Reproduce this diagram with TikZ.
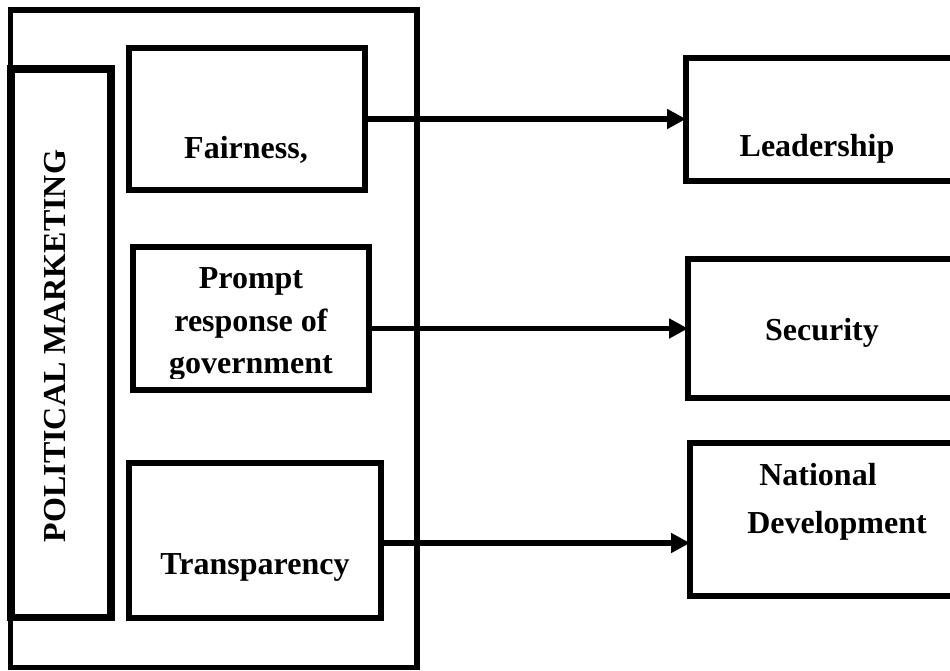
\documentclass[tikz,border=0pt]{standalone}
\usepackage{fontspec}
\setmainfont{Liberation Serif}
\usetikzlibrary{arrows.meta}
\begin{document}
\begin{tikzpicture}[x=1pt,y=-1pt,
  boxa/.style={draw=black,line width=5.5pt,outer sep=0pt,inner sep=0pt,rectangle},
  boxb/.style={draw=black,line width=7.5pt,outer sep=0pt,inner sep=0pt,rectangle},
  lbl/.style={inner sep=0pt,outer sep=0pt,anchor=base,font=\fontsize{32}{43}\selectfont\bfseries},
  arr/.style={line width=5.5pt,-{Triangle[length=19pt,width=19pt]}}]
\useasboundingbox (0,0) rectangle (950,670);
\clip (0,0) rectangle (950,670);
% outer frame
\node[boxa,minimum width=406.5pt,minimum height=657.5pt] (outer) at (213.75,338.5) {};
% political marketing
\node[boxb,minimum width=100pt,minimum height=548.5pt] (pm) at (61,343.25) {};
\node[lbl,rotate=90] (pmt) at (65,346) {POLITICAL MARKETING};
% left boxes
\node[boxa,minimum width=236pt,minimum height=142pt] (fair) at (247,119) {};
\node[boxa,minimum width=236pt,minimum height=143pt] (prompt) at (251,318.5) {};
\node[boxa,minimum width=252pt,minimum height=155pt] (trans) at (255,540.5) {};
% right boxes (cut off at right margin)
\node[boxa,minimum width=279pt,minimum height=123pt] (lead) at (825.5,119.5) {};
\node[boxa,minimum width=277pt,minimum height=139pt] (sec) at (826.5,328.5) {};
\node[boxa,minimum width=275pt,minimum height=153pt] (natdev) at (827.5,519.5) {};
% texts
\node[lbl] (fairt) at (246,158) {Fairness,};
\node[lbl] (promptt1) at (251,288) {Prompt};
\node[lbl] (promptt2) at (251,331) {response of};
\begin{scope}
\clip (130,240) rectangle (370,378);
\node[lbl] (promptt3) at (251,373) {government};
\end{scope}
\node[lbl] (transt) at (255,574) {Transparency};
\node[lbl] (leadt) at (817,156) {Leadership};
\node[lbl] (sect) at (822,340) {Security};
\node[lbl] (natt1) at (818,485) {National};
\node[lbl] (natt2) at (837,533) {Development};
% connectors
\draw[arr] (fair.east) -- (fair.east -| lead.west);
\draw[arr] (prompt.east |- sec.west) -- (sec.west);
\draw[arr] ([yshift=-2.5pt]trans.east) -- ([yshift=-2.5pt]trans.east -| natdev.west);
\end{tikzpicture}
\end{document}
